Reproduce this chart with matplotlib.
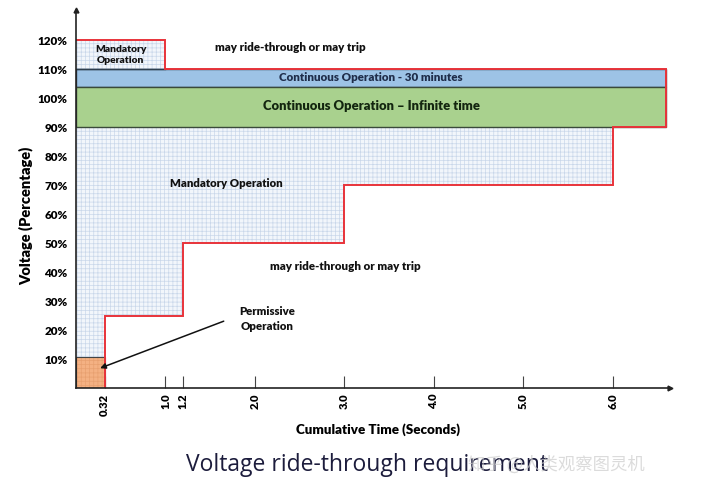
import matplotlib
matplotlib.use("Agg")
import matplotlib.pyplot as plt
from matplotlib.patches import Polygon, Rectangle
import numpy as np

plt.rcParams['font.family'] = ['Lato', 'DejaVu Sans']
plt.rcParams['hatch.linewidth'] = 0.5

# boundary of the mandatory operation region (time s, voltage %)
mand_t = [0.0, 0.32, 0.32, 1.2, 1.2, 3.0, 3.0, 6.0, 6.0, 0.0]
mand_v = [0.0, 0.0, 25.0, 25.0, 50.0, 50.0, 70.0, 70.0, 90.0, 90.0]

# red ride-through boundary
red_t = [0.0, 1.0, 1.0, 6.6, 6.6, 6.0, 6.0, 3.0, 3.0, 1.2, 1.2, 0.32, 0.32]
red_v = [120, 120, 110, 110, 90, 90, 70, 70, 50, 50, 25, 25, 0]

# bands
band_30min = (104.0, 110.0)
band_inf = (90.0, 104.0)
band_end = 6.6
permissive = (0.32, 10.8)
overvolt_box = (1.0, 110.0, 120.0)

xticks = [0.32, 1.0, 1.2, 2.0, 3.0, 4.0, 5.0, 6.0]
xticklabels = ['0.32', '1.0', '1.2', '2.0', '3.0', '4.0', '5.0', '6.0']
yticks = [10, 20, 30, 40, 50, 60, 70, 80, 90, 100, 110, 120]

fig = plt.figure(figsize=(7.2, 4.93), dpi=100)
ax = fig.add_axes([0.1056, 0.213, 0.825, 0.767])
ax.set_xlim(0, 6.64)
ax.set_ylim(0, 130.5)

grid_fc = '#f2f6fb'
grid_ec = '#c9d7ea'

# hatched mandatory areas
ax.add_patch(Polygon(np.column_stack([mand_t, mand_v]), closed=True, facecolor=grid_fc,
                     edgecolor=grid_ec, hatch='++++', linewidth=0, zorder=1))
ax.add_patch(Rectangle((0, overvolt_box[1]), overvolt_box[0], overvolt_box[2] - overvolt_box[1],
                       facecolor=grid_fc, edgecolor=grid_ec, hatch='++++', linewidth=0, zorder=1))

# permissive square
ax.add_patch(Rectangle((0, 0), permissive[0], permissive[1], facecolor='#f4b183',
                       edgecolor='#e8a070', hatch='++++', linewidth=0, zorder=2))
ax.add_patch(Rectangle((0, 0), permissive[0], permissive[1], facecolor='none',
                       edgecolor='#444444', linewidth=0.8, zorder=3))

# continuous bands
ax.add_patch(Rectangle((0, band_30min[0]), band_end, band_30min[1] - band_30min[0],
                       facecolor='#9dc3e6', edgecolor='#2f3f4f', linewidth=1.0, zorder=3))
ax.add_patch(Rectangle((0, band_inf[0]), band_end, band_inf[1] - band_inf[0],
                       facecolor='#a9d18e', edgecolor='#3a4a3a', linewidth=1.0, zorder=3))
ax.plot([0, 1.0], [110, 110], color='#2f3f4f', lw=1.0, zorder=3)

ax.plot(red_t, red_v, color='#e8333a', lw=1.4, zorder=4, solid_joinstyle='miter')

# texts
bold = dict(fontweight='heavy', color='#111111', ha='center', va='center')
ax.text(0.5, 115, 'Mandatory\nOperation', fontsize=7.4, linespacing=1.35, zorder=5, **bold)
ax.text(2.40, 117.6, 'may ride-through or may trip', fontsize=8.3, zorder=5, **bold)
ax.text(3.30, 107.0, 'Continuous Operation - 30 minutes', fontsize=8.3, zorder=5,
        fontweight='heavy', color='#1f2d4a', ha='center', va='center')
ax.text(3.30, 97.2, 'Continuous Operation \u2013 Infinite time', fontsize=9.4, zorder=5,
        fontweight='heavy', color='#13260f', ha='center', va='center')
ax.text(1.68, 70.5, 'Mandatory Operation', fontsize=8.2, zorder=5, **bold)
ax.text(3.01, 42.0, 'may ride-through or may trip', fontsize=8.3, zorder=5, **bold)
ax.text(2.14, 23.8, 'Permissive\nOperation', fontsize=8.2, linespacing=1.4, zorder=5, **bold)
ax.annotate('', xy=(0.24, 6.5), xytext=(1.68, 23.4), zorder=6,
            arrowprops=dict(arrowstyle='-|>', color='#111111', lw=1.1, mutation_scale=8))

# axes styling
for s in ['top', 'right']:
    ax.spines[s].set_visible(False)
for s in ['left', 'bottom']:
    ax.spines[s].set_color('#222222')
    ax.spines[s].set_linewidth(1.2)
    ax.spines[s].set_zorder(6)
ax.plot(1, 0, '>', color='#222222', ms=3.5, transform=ax.transAxes, clip_on=False, zorder=7)
ax.plot(0, 1, '^', color='#222222', ms=3.5, transform=ax.transAxes, clip_on=False, zorder=7)

ax.set_xticks(xticks)
ax.set_xticklabels(xticklabels, rotation=90, fontsize=8, fontweight='heavy')
ax.tick_params(axis='x', direction='in', length=9, width=0.8, color='#444444', pad=4)
ax.set_yticks(yticks)
ax.set_yticklabels([f'{v}%' for v in yticks], fontsize=8.4, fontweight='heavy')
ax.tick_params(axis='y', length=0, pad=6)

ax.set_xlabel('Cumulative Time (Seconds)', fontsize=9.6, fontweight='heavy')
ax.xaxis.set_label_coords(0.508, -0.093)
ax.set_ylabel('Voltage (Percentage)', fontsize=10.5, fontweight='heavy')
ax.yaxis.set_label_coords(-0.072, 0.455)

fig.text(0.51, 0.057, 'Voltage ride-through requirement', fontsize=16.5, color='#1c1c3c',
         family=['Open Sans', 'DejaVu Sans'], ha='center', va='center')
fig.text(0.773, 0.057, '知乎 @人类观察图灵机', fontsize=12.5, color='#cccccc', alpha=0.7,
         family=['Noto Sans CJK SC', 'DejaVu Sans'], ha='center', va='center')

fig.savefig('out.png', dpi=100, facecolor='white')
